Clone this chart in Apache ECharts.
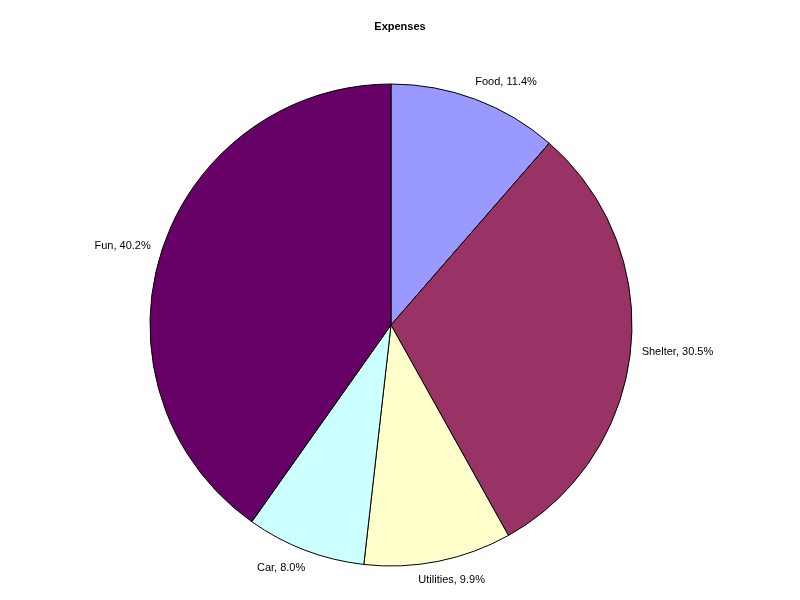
<!DOCTYPE html>
<html>
<head>
<meta charset="utf-8">
<script src="https://cdn.jsdelivr.net/npm/echarts@6/dist/echarts.min.js"></script>
<style>html,body{margin:0;padding:0;background:#fff;}#c{width:800px;height:600px;}</style>
</head>
<body>
<div id="c"></div>
<script>
const categories = ['Food', 'Shelter', 'Utilities', 'Car', 'Fun'];
const values = [11.4, 30.5, 9.9, 8.0, 40.2];
const colors = ['#9999FF', '#993366', '#FFFFCC', '#CCFFFF', '#660066'];

const chart = echarts.init(document.getElementById('c'), null, {renderer: 'canvas'});
const total = values.reduce((a, b) => a + b, 0);
function midAngle(i) {
  let before = 0;
  for (let k = 0; k < i; k++) before += values[k];
  return (before + values[i] / 2) / total * 2 * Math.PI;
}
chart.setOption({
  backgroundColor: '#ffffff',
  animation: false,
  title: {
    text: 'Expenses',
    left: 'center',
    top: 16,
    textStyle: {fontFamily: 'Liberation Sans, Arial, sans-serif', fontSize: 11, fontWeight: 'bold', color: '#000'}
  },
  series: [{
    type: 'pie',
    center: [391, 325],
    radius: 241,
    startAngle: 90,
    clockwise: true,
    avoidLabelOverlap: false,
    data: categories.map((c, i) => ({name: c, value: values[i], itemStyle: {color: colors[i]}})),
    itemStyle: {borderColor: '#000', borderWidth: 1},
    label: {
      show: true,
      position: 'outside',
      alignTo: 'none',
      distanceToLabelLine: 3,
      formatter: p => p.name + ', ' + (p.value / total * 100).toFixed(1) + '%',
      fontFamily: 'Liberation Sans, Arial, sans-serif',
      fontSize: 11,
      color: '#000'
    },
    labelLine: {show: false, length: 8, length2: 0},
    labelLayout: function (p) {
      const a = midAngle(p.dataIndex);
      const s = Math.sin(a), c = Math.cos(a);
      let dx = 0;
      if (Math.abs(s) < 0.25) dx = (s > 0 ? -1 : 1) * 0.37 * p.labelRect.width;
      else if (Math.abs(s) < 0.5) dx = (s > 0 ? -1 : 1) * 6;
      return {dx: dx, dy: -11 * c};
    },
    emphasis: {disabled: true}
  }]
});
</script>
</body>
</html>
